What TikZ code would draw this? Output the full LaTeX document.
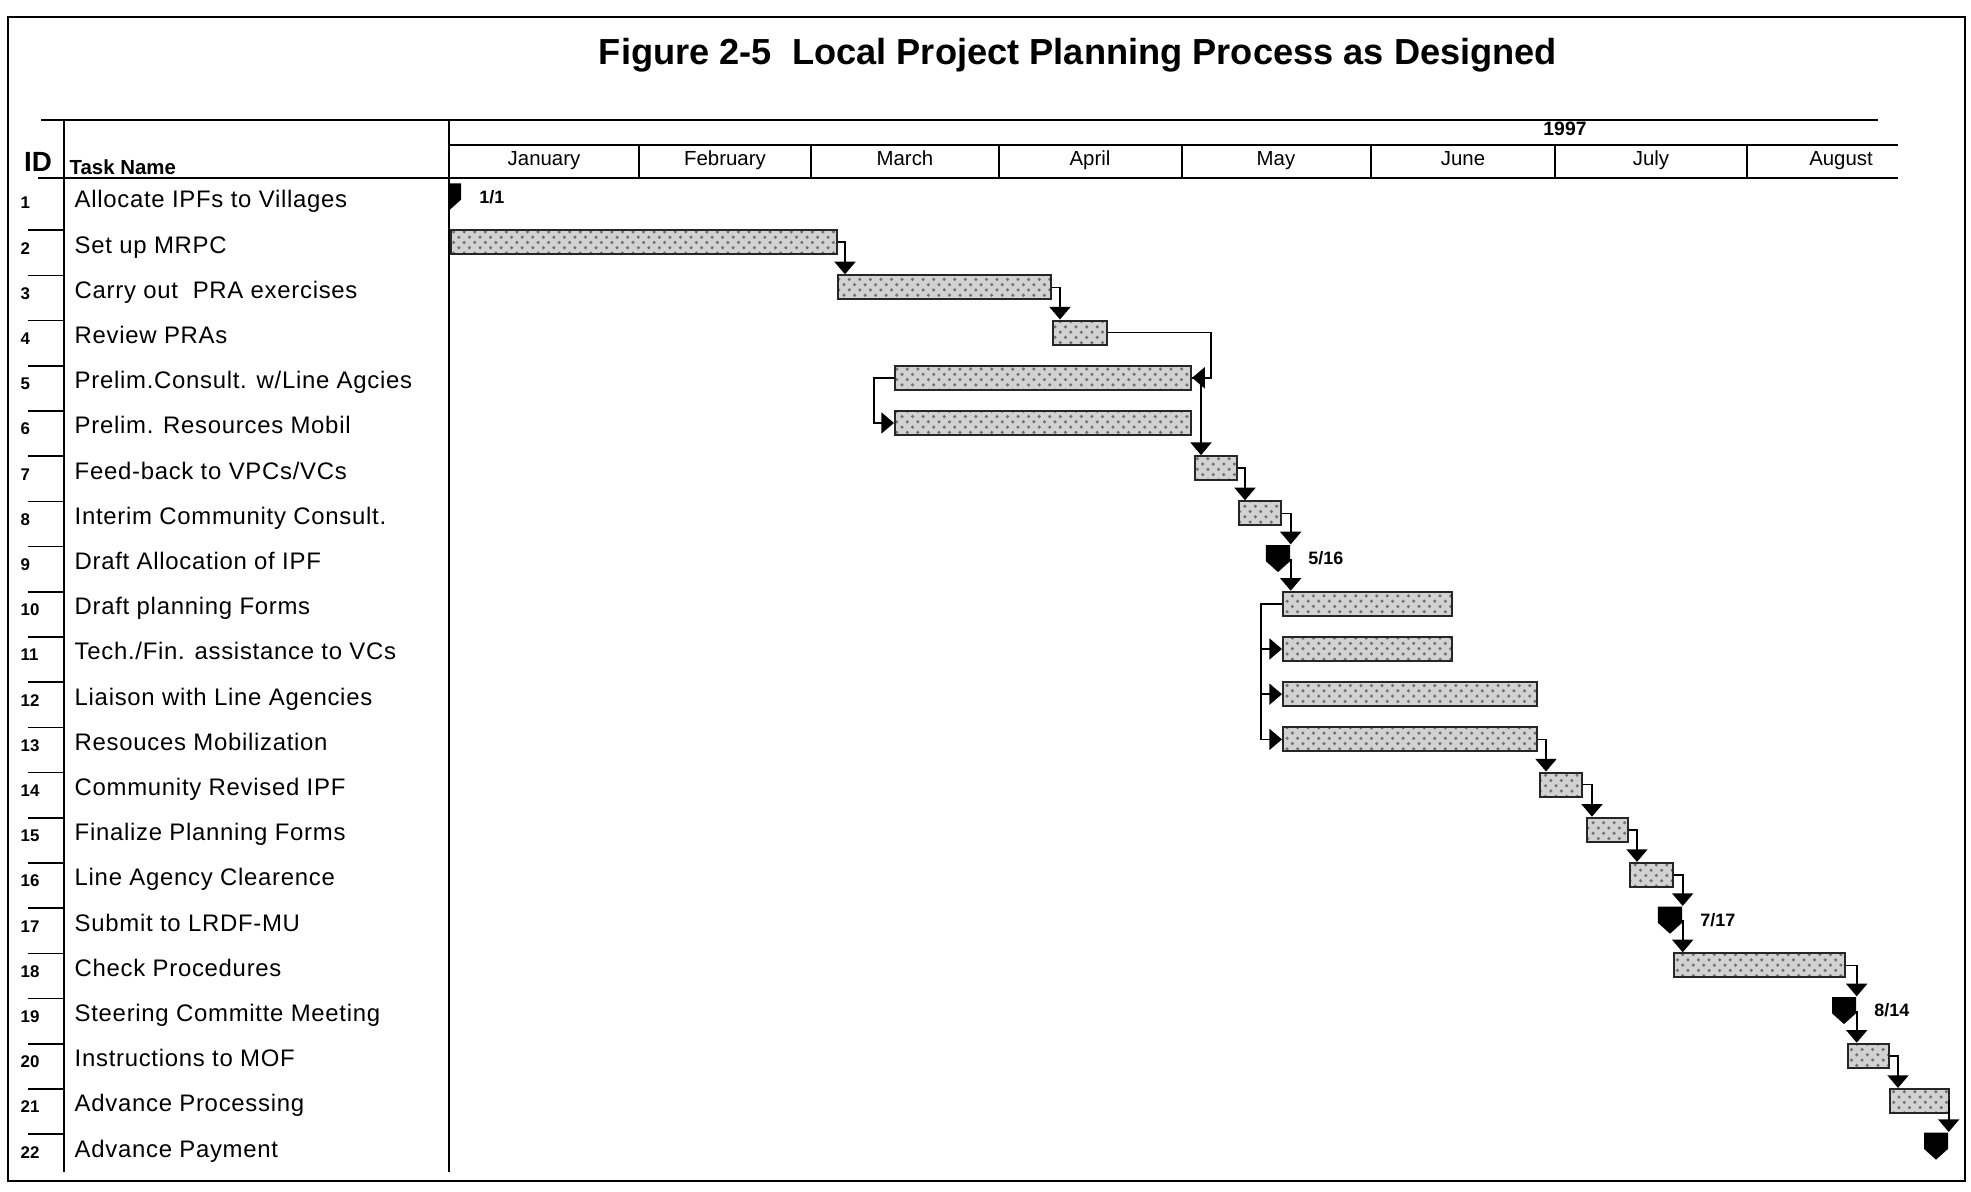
\documentclass[tikz,border=0pt]{standalone}
\usepackage{fontspec}
\setmainfont{Liberation Sans}
\newfontfamily\taskfont[LetterSpace=3]{Liberation Sans}
\usetikzlibrary{arrows.meta,
                positioning,
                calc,
                patterns}
\tikzset{taskbar/.style =
   {rectangle,
    draw=black!85,
    line width=0.6pt,
    preaction={fill=gray!35},
    pattern=crosshatch dots,
    pattern color=black!55,
    anchor=west,
    inner sep=0pt,
    minimum height=0.24cm}}
\tikzset{milestone/.style =
   {rectangle,
    inner sep=0pt,
    minimum width=0.24cm,
    minimum height=0.27cm,
    path picture={\fill[black]
      (path picture bounding box.north west) --
      (path picture bounding box.north east) --
      ($(path picture bounding box.north east)!0.6!(path picture bounding box.south east)$) --
      (path picture bounding box.south) --
      ($(path picture bounding box.north west)!0.6!(path picture bounding box.south west)$) -- cycle;}}}
\tikzset{taskname/.style =
   {anchor=base west,
    inner sep=0pt,
    font=\taskfont\fontsize{6.8}{8}\selectfont}}
\tikzset{idnum/.style =
   {anchor=base west,
    inner sep=0pt,
    font=\bfseries\fontsize{4.8}{6}\selectfont}}
\tikzset{monthname/.style =
   {anchor=base,
    inner sep=0pt,
    font=\fontsize{5.8}{7}\selectfont}}
\tikzset{datelabel/.style =
   {anchor=west,
    inner sep=0pt,
    node distance=0.17cm,
    font=\bfseries\fontsize{5.1}{6}\selectfont}}
\tikzset{rule/.style = {draw, line width=0.5pt}}
\tikzset{link/.style = {draw, line width=0.45pt, -{Triangle[width=6pt,length=3.6pt]}}}

\begin{document}
\begin{tikzpicture}[x=0.01cm, y=-0.01cm]
    \useasboundingbox (0,0) rectangle (1971,1192);
    \draw[line width=0.8pt] (8,17) rectangle (1965,1181);

    \node[anchor=base, inner sep=0pt, font=\bfseries\fontsize{10.3}{12}\selectfont]
         (title) at (1078,65) {Figure 2-5\ \ Local Project Planning Process as Designed};

    % header of the table and the time scale
    \draw[rule] (41,120) -- (1878,120);
    \draw[rule] (449,145) -- (1898,145);
    \draw[rule] (38,178) -- (1898,178);
    \draw[rule] (64,120) -- (64,1172);
    \draw[rule] (449,120) -- (449,1172);
    \foreach \x in {639,811,999,1182,1371,1555,1747}
        \draw[rule] (\x,145) -- (\x,178);

    \node[anchor=base, inner sep=0pt, font=\bfseries\fontsize{7.9}{9}\selectfont]
         (idhead) at (38,172) {ID};
    \node[anchor=base west, inner sep=0pt, font=\bfseries\fontsize{5.8}{7}\selectfont]
         (namehead) at (69,175) {Task Name};
    \node[anchor=base, inner sep=0pt, font=\bfseries\fontsize{5.5}{7}\selectfont]
         (year) at (1565,136) {1997};
    \foreach \m/\c in {January/544, February/725, March/905, April/1090,
                       May/1276, June/1463, July/1651, August/1841}
        \node[monthname] (mon\m) at (\c,166) {\m};

    % task list
    \foreach \i/\name in {1/{Allocate IPFs to Villages},
                          2/{Set up MRPC},
                          3/{Carry out\ \ PRA exercises},
                          4/{Review PRAs},
                          5/{Prelim.Consult. w/Line Agcies},
                          6/{Prelim. Resources Mobil},
                          7/{Feed-back to VPCs/VCs},
                          8/{Interim Community Consult.},
                          9/{Draft Allocation of IPF},
                          10/{Draft planning Forms},
                          11/{Tech./Fin. assistance to VCs},
                          12/{Liaison with Line Agencies},
                          13/{Resouces Mobilization},
                          14/{Community Revised IPF},
                          15/{Finalize Planning Forms},
                          16/{Line Agency Clearence},
                          17/{Submit to LRDF-MU},
                          18/{Check Procedures},
                          19/{Steering Committe Meeting},
                          20/{Instructions to MOF},
                          21/{Advance Processing},
                          22/{Advance Payment}}
    {
        \pgfmathsetmacro\ry{197+45.2*(\i-1)}
        \node[idnum] (id\i) at (20,\ry+12) {\i};
        \node[taskname] (task\i) at (74,\ry+11) {\name};
    }
    \foreach \i in {2,...,22}
        \draw[rule] (28,{197+45.2*(\i-1)-12}) -- (64,{197+45.2*(\i-1)-12});

    % bars
    \foreach \i/\s/\e in {2/450/836, 3/837/1050, 4/1052/1106, 5/894/1190,
                          6/894/1190, 7/1194/1236, 8/1238/1280, 10/1282/1451,
                          11/1282/1451, 12/1282/1536, 13/1282/1536, 14/1539/1581,
                          15/1586/1627, 16/1629/1672, 18/1673/1844, 20/1847/1888,
                          21/1889/1948}
        \node[taskbar, minimum width={(\e-\s)*0.01cm}] (t\i) at (\s,{197+45.2*(\i-1)}) {};

    % milestones
    \begin{scope}
        \clip (449,170) rectangle (480,230);
        \node[milestone] (m1) at (449,197) {};
    \end{scope}
    \foreach \i/\c in {9/1278, 17/1670, 19/1844, 22/1936}
        \node[milestone] (m\i) at (\c,{197+45.2*(\i-1)}) {};

    \node[datelabel, right=of m1] (d1) {1/1};
    \node[datelabel, right=of m9] (d9) {5/16};
    \node[datelabel, right=of m17] (d17) {7/17};
    \node[datelabel, right=of m19] (d19) {8/14};

    % links
    \draw[link] (t2.east) -| ($(t3.north west)+(8,0)$);
    \draw[link] (t3.east) -| ($(t4.north west)+(8,0)$);
    \draw[link] (t4.east) -| ($(t5.east)+(19,0)$) -- (t5.east);
    \draw[link] (t5.west) -| ($(t6.west)+(-20,0)$) -- (t6.west);
    \draw[link] (t5.east) -| ($(t7.north west)+(7,0)$);
    \draw[link] (t7.east) -| ($(t8.north west)+(7,0)$);
    \draw[link] (t8.east) -| (m9.north east);
    \draw[link] (m9.east) -- (m9.east |- t10.north);
    \foreach \j in {11,12,13}
        \draw[link] (t10.west) -- ++(-21,0) |- (t\j.west);
    \draw[link] (t13.east) -| ($(t14.north west)+(7,0)$);
    \draw[link] (t14.east) -| ($(t15.north west)+(6,0)$);
    \draw[link] (t15.east) -| ($(t16.north west)+(8,0)$);
    \draw[link] (t16.east) -| (m17.north east);
    \draw[link] (m17.east) -- (m17.east |- t18.north);
    \draw[link] (t18.east) -| (m19.north east);
    \draw[link] (m19.east) -- (m19.east |- t20.north);
    \draw[link] (t20.east) -| ($(t21.north west)+(9,0)$);
    \draw[link] (t21.east) -| (m22.north east);
\end{tikzpicture}
\end{document}
